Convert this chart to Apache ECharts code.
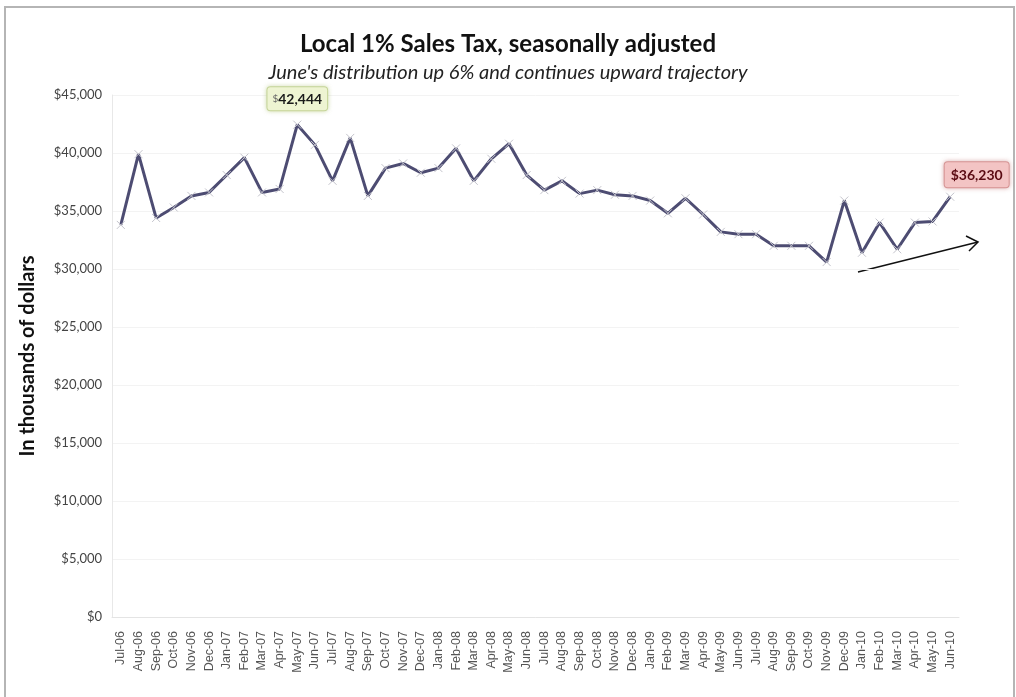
<!DOCTYPE html>
<html>
<head>
<meta charset="utf-8">
<script src="https://cdn.jsdelivr.net/npm/echarts@6/dist/echarts.min.js"></script>
<style>
html,body{margin:0;padding:0;background:#fff;}
#chart{width:1016px;height:697px;}
</style>
</head>
<body>
<div id="chart"></div>
<script>
var categories = ['Jul-06','Aug-06','Sep-06','Oct-06','Nov-06','Dec-06','Jan-07','Feb-07','Mar-07','Apr-07','May-07','Jun-07',
  'Jul-07','Aug-07','Sep-07','Oct-07','Nov-07','Dec-07','Jan-08','Feb-08','Mar-08','Apr-08','May-08','Jun-08',
  'Jul-08','Aug-08','Sep-08','Oct-08','Nov-08','Dec-08','Jan-09','Feb-09','Mar-09','Apr-09','May-09','Jun-09',
  'Jul-09','Aug-09','Sep-09','Oct-09','Nov-09','Dec-09','Jan-10','Feb-10','Mar-10','Apr-10','May-10','Jun-10'];
var salesTax = [33800, 39900, 34400, 35300, 36300, 36600, 38100, 39600, 36600, 36900, 42444, 40700,
  37600, 41300, 36300, 38700, 39100, 38300, 38700, 40400, 37600, 39500, 40800, 38100,
  36800, 37600, 36500, 36800, 36400, 36300, 35900, 34800, 36100, 34700, 33200, 33000,
  33000, 32000, 32000, 32000, 30600, 35900, 31400, 34000, 31700, 34000, 34100, 36230];
var yTicks = {min: 0, max: 45000, interval: 5000};
var titleText = 'Local 1% Sales Tax, seasonally adjusted';
var subtitleText = "June's distribution up 6% and continues upward trajectory";
var yAxisName = 'In thousands of dollars';
var peakIndex = 10;
var lastIndex = 47;

function fmtMoney(v){ return '$' + v.toLocaleString('en-US'); }

var seriesData = salesTax.map(function(v, i){
  var item = {value: v};
  if (i === peakIndex) {
    item.label = {
      show: true, position: 'top', distance: 10,
      formatter: '{s|$}{b|' + v.toLocaleString('en-US') + '}',
      backgroundColor: '#eef4d2', borderColor: '#c9d7a0', borderWidth: 1, borderRadius: 3,
      padding: [5, 5, 4, 5],
      shadowColor: 'rgba(180,200,120,0.5)', shadowBlur: 4,
      rich: {
        s: {fontFamily: 'Lato', fontSize: 10, color: '#666', fontWeight: 'normal'},
        b: {fontFamily: 'Lato', fontSize: 14, color: '#1a1a1a', fontWeight: 'bold'}
      }
    };
  }
  if (i === lastIndex) {
    item.label = {
      show: true, position: [-1, -30], align: 'left', verticalAlign: 'top',
      formatter: fmtMoney(v),
      fontFamily: 'Lato', fontSize: 14, fontWeight: 'bold', color: '#5a0a12',
      backgroundColor: '#f3c4c4', borderColor: '#d99a9a', borderWidth: 1, borderRadius: 3,
      padding: [6, 6, 5, 6],
      shadowColor: 'rgba(200,120,120,0.5)', shadowBlur: 4
    };
  }
  return item;
});

var chart = echarts.init(document.getElementById('chart'), null, {renderer: 'canvas'});
chart.setOption({
  backgroundColor: '#fff',
  animation: false,
  title: [
    {text: titleText, left: 'center', top: 27,
     textStyle: {fontFamily: 'Lato', fontSize: 24, fontWeight: 'bold', color: '#111'}},
    {text: subtitleText, left: 'center', top: 58,
     textStyle: {fontFamily: 'Lato', fontSize: 20, fontStyle: 'italic', fontWeight: 'normal', color: '#222'}}
  ],
  grid: {left: 112, right: 57, top: 95, bottom: 80, containLabel: false},
  xAxis: {
    type: 'category', data: categories, boundaryGap: true,
    axisLine: {show: true, lineStyle: {color: '#e4e4e4'}},
    axisTick: {show: false},
    axisLabel: {rotate: 90, interval: 0, fontFamily: 'Liberation Sans Narrow, Liberation Sans, sans-serif',
      fontSize: 12.5, color: '#555', margin: 14}
  },
  yAxis: {
    type: 'value', min: yTicks.min, max: yTicks.max, interval: yTicks.interval,
    name: yAxisName, nameLocation: 'middle', nameGap: 74, nameRotate: 90,
    nameTextStyle: {fontFamily: 'Lato', fontSize: 20, fontWeight: 'bold', color: '#111'},
    axisLine: {show: true, lineStyle: {color: '#e8e8e8'}},
    axisTick: {show: false},
    splitLine: {show: true, lineStyle: {color: '#f3f3f3'}},
    axisLabel: {fontFamily: 'Lato', fontSize: 13, color: '#444', margin: 10,
      formatter: function(v){ return fmtMoney(v); }}
  },
  series: [{
    type: 'line', data: seriesData,
    lineStyle: {color: '#4d4c72', width: 3},
    symbol: 'path://M0,0L10,10M10,0L0,10', symbolSize: 8, showSymbol: true,
    itemStyle: {color: 'rgba(0,0,0,0)', borderColor: '#c4c4cc', borderWidth: 1},
    label: {show: false},
    z: 3
  }],
  graphic: [
    {type: 'rect', shape: {x: 5, y: 7, width: 1009, height: 700},
     style: {fill: 'none', stroke: '#b5b5b5', lineWidth: 2}, silent: true},
    {type: 'line', shape: {x1: 858, y1: 272, x2: 978, y2: 242},
     style: {stroke: '#111', lineWidth: 1.3}},
    {type: 'polyline', shape: {points: [[966, 236], [978, 242], [969, 251]]},
     style: {stroke: '#111', lineWidth: 1.5, fill: 'none'}}
  ]
});
</script>
</body>
</html>
